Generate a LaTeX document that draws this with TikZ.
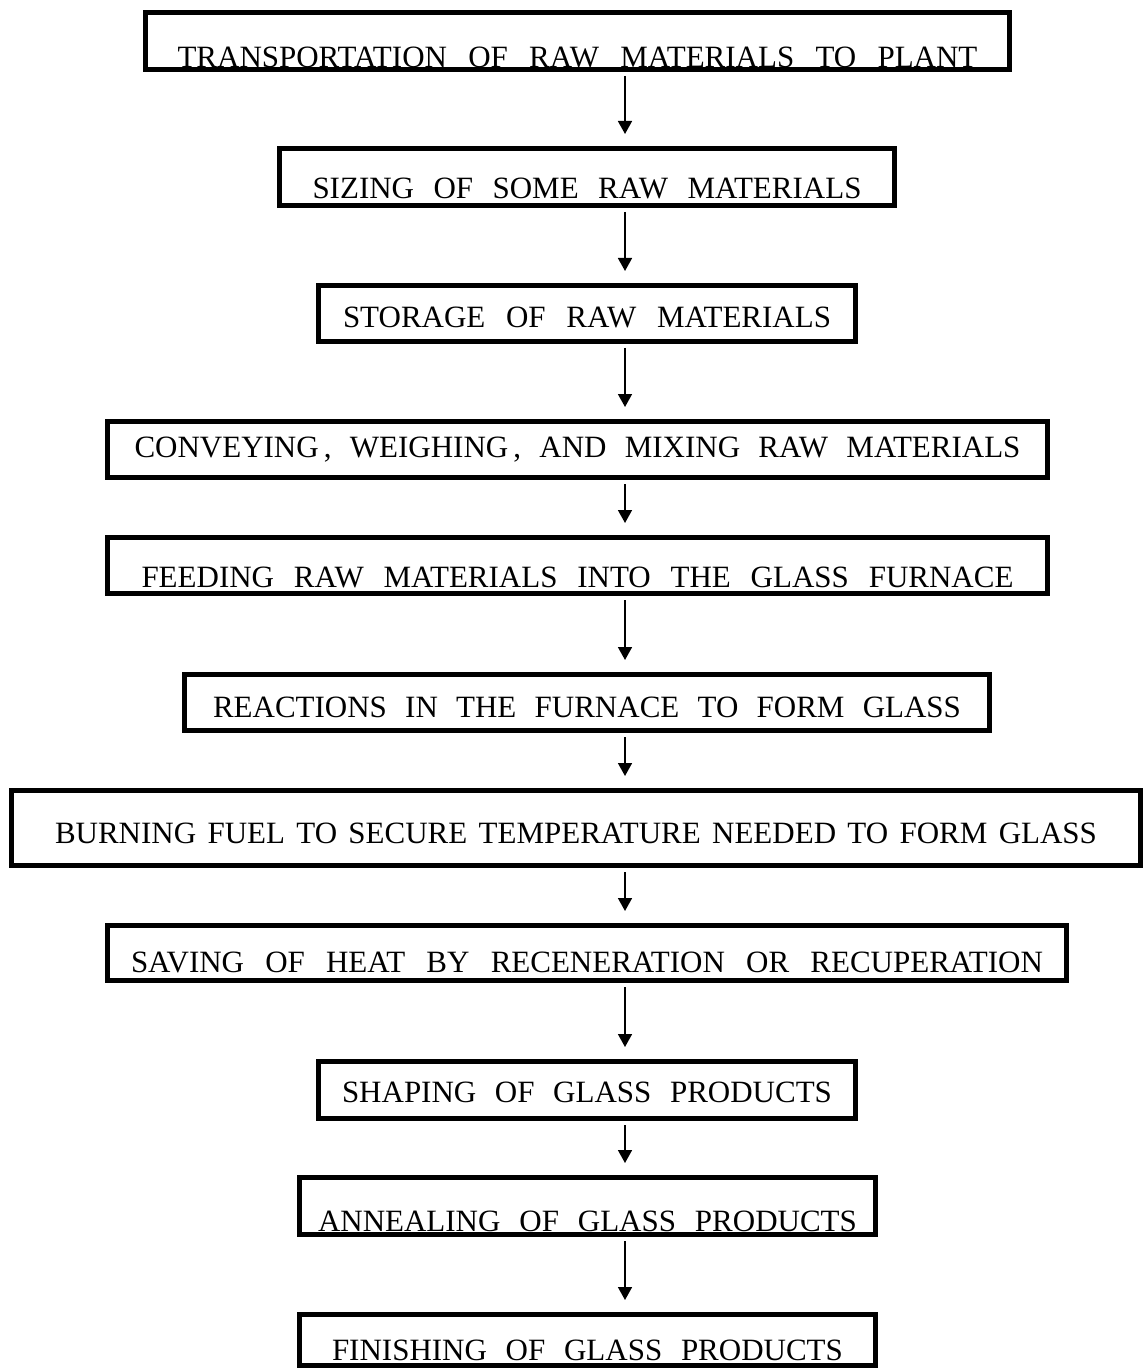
\documentclass[tikz,border=0pt]{standalone}
\usepackage{fontspec}
\setmainfont{Liberation Serif}
\usetikzlibrary{arrows.meta}
\newcommand{\stagetext}[2]{\makebox[#1][s]{#2}}
\tikzset{
  stage/.style={draw, line width=2.5pt, inner sep=0pt, text depth=0pt,
    font=\fontsize{15.5pt}{18pt}\selectfont},
  flow/.style={line width=0.8pt, -{Triangle[width=7pt,length=6.5pt]},
    shorten <=2pt, shorten >=6pt}
}

\begin{document}
\begin{tikzpicture}[x=0.5pt,y=-0.5pt]
  \useasboundingbox (0,0) rectangle (1144,1369);
  \coordinate (axis) at (625,0);

  \node[stage, minimum width=432pt, minimum height=28.5pt, text height=27pt] (transport) at (577.5,41)
    {\stagetext{400pt}{TRANSPORTATION OF RAW MATERIALS TO PLANT}};
  \node[stage, minimum width=307.5pt, minimum height=28.5pt, text height=22pt] (sizing) at (587,177)
    {\stagetext{274.5pt}{SIZING OF SOME RAW MATERIALS}};
  \node[stage, minimum width=268.5pt, minimum height=28pt, text height=14.5pt] (storage) at (587,313.5)
    {\stagetext{244pt}{STORAGE OF RAW MATERIALS}};
  \node[stage, minimum width=470pt, minimum height=28pt, text height=7.5pt] (mixing) at (577.5,449.5)
    {\stagetext{443pt}{CONVEYING\,, WEIGHING\,, AND MIXING RAW MATERIALS}};
  \node[stage, minimum width=470pt, minimum height=28pt, text height=21.5pt] (feeding) at (577.5,565.5)
    {\stagetext{436pt}{FEEDING RAW MATERIALS INTO THE GLASS FURNACE}};
  \node[stage, minimum width=402.5pt, minimum height=28pt, text height=14.5pt] (reaction) at (587,702.5)
    {\stagetext{374pt}{REACTIONS IN THE FURNACE TO FORM GLASS}};
  \node[stage, minimum width=564.5pt, minimum height=37.5pt, text height=15pt] (burning) at (576,828)
    {\stagetext{521pt}{BURNING FUEL TO SECURE TEMPERATURE NEEDED TO FORM GLASS}};
  \node[stage, minimum width=479.5pt, minimum height=27.5pt, text height=19pt] (saving) at (587,953)
    {\stagetext{456pt}{SAVING OF HEAT BY RECENERATION OR RECUPERATION}};
  \node[stage, minimum width=268.5pt, minimum height=28.5pt, text height=12pt] (shaping) at (587,1090)
    {\stagetext{245pt}{SHAPING OF GLASS PRODUCTS}};
  \node[stage, minimum width=288pt, minimum height=28.5pt, text height=25pt] (annealing) at (587.5,1206)
    {\stagetext{269.5pt}{ANNEALING OF GLASS PRODUCTS}};
  \node[stage, minimum width=288pt, minimum height=25.5pt, text height=20pt] (finishing) at (587.5,1340)
    {\stagetext{255.5pt}{FINISHING OF GLASS PRODUCTS}};

  % arrows between the stages
  \foreach \from/\to in {transport/sizing, sizing/storage, storage/mixing, mixing/feeding,
      feeding/reaction, reaction/burning, burning/saving, saving/shaping,
      shaping/annealing, annealing/finishing}
    \draw[flow] (\from.south -| axis) -- (\to.north -| axis);
\end{tikzpicture}
\end{document}
